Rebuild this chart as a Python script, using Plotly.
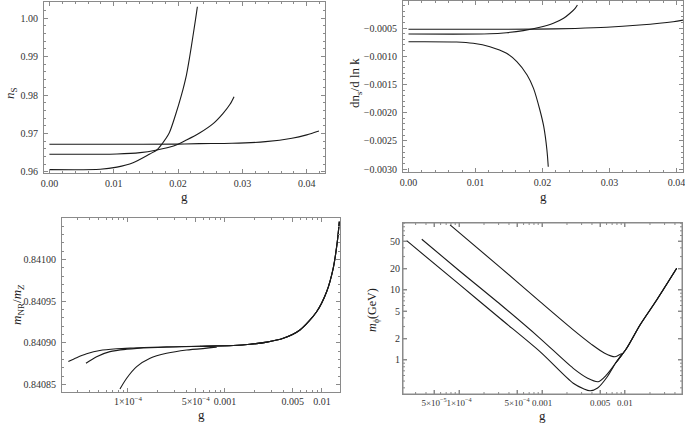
import plotly.graph_objects as go

W, H = 685, 427

# ---------------- Panel 1: n_S vs g ----------------
ns_g_a = [0.0, 0.010, 0.020, 0.0233, 0.0284, 0.0336, 0.0377, 0.0400, 0.0419]
ns_a = [0.96715, 0.96716, 0.96720, 0.96731, 0.96740, 0.96783, 0.96871, 0.96960, 0.97061]
ns_g_b = [0.0, 0.0105, 0.0141, 0.0167, 0.0193, 0.0213, 0.0234, 0.0255, 0.0270, 0.0281, 0.0287]
ns_b = [0.96454, 0.96462, 0.96496, 0.96566, 0.96670, 0.96827, 0.97017, 0.97262, 0.97523, 0.97765, 0.97956]
ns_g_c = [0.0, 0.0079, 0.0105, 0.0130, 0.0156, 0.0167, 0.0175, 0.0186, 0.0196, 0.0205, 0.0213, 0.0218, 0.0223, 0.02274, 0.0230]
ns_c = [0.96055, 0.96063, 0.96120, 0.96235, 0.96462, 0.96566, 0.96723, 0.97001, 0.97479, 0.97982, 0.98521, 0.98991, 0.99520, 1.00000, 1.00300]

# ---------------- Panel 2: dn_s/dlnk vs g ----------------
run_g_a = [0.0, 0.0096, 0.0191, 0.0249, 0.0296, 0.0345, 0.0395, 0.0420]
run_a = [-0.000523, -0.000523, -0.000520, -0.000508, -0.000488, -0.000447, -0.000388, -0.000340]
run_g_b = [0.0, 0.01215, 0.01464, 0.01713, 0.01961, 0.02162, 0.02315, 0.02411, 0.02487, 0.02521]
run_b = [-0.000606, -0.000603, -0.000583, -0.000547, -0.000488, -0.000417, -0.000328, -0.000239, -0.000151, -0.000092]
run_g_c = [0.0, 0.00718, 0.00966, 0.01215, 0.01464, 0.01617, 0.0177, 0.01866, 0.01961, 0.02019, 0.02066, 0.02086]
run_c = [-0.000743, -0.000748, -0.000771, -0.000831, -0.000949, -0.001097, -0.001333, -0.001570, -0.001954, -0.002250, -0.002663, -0.002959]

# ---------------- Panel 3: m_NR/m_Z vs g (log x) ----------------
mr_g_tail = [5.5e-4, 1.22e-3, 1.81e-3, 2.7e-3, 3.99e-3, 5.93e-3, 8.81e-3, 1.117e-2, 1.306e-2, 1.44e-2, 1.51e-2]
mr_tail = [0.8408960, 0.8408970, 0.8408984, 0.8409010, 0.8409056, 0.8409156, 0.8409375, 0.8409615, 0.8409896, 0.8410215, 0.8410455]
mr_g_1 = [2.43e-5, 2.96e-5, 3.75e-5, 5.14e-5, 7.64e-5, 1.13e-4, 2.5e-4]
mr_1 = [0.8408778, 0.8408824, 0.8408870, 0.8408910, 0.8408930, 0.8408940, 0.8408955]
mr_g_2 = [3.69e-5, 4.75e-5, 6.52e-5, 9.7e-5, 1.69e-4, 3.72e-4]
mr_2 = [0.8408757, 0.8408836, 0.8408896, 0.8408924, 0.8408944, 0.8408956]
mr_g_3 = [8.27e-5, 9.7e-5, 1.23e-4, 1.69e-4, 2.5e-4, 4.03e-4, 8.2e-4]
mr_3 = [0.8408448, 0.8408577, 0.8408716, 0.8408817, 0.8408876, 0.8408916, 0.8408948]

# ---------------- Panel 4: m_phi vs g (log-log) ----------------
mp_g_tail = [7.76e-3, 1.047e-2, 1.517e-2, 2.41e-2, 4.2e-2]
mp_tail = [0.912, 1.47, 3.16, 7.19, 20.4]
mp_g_1 = [2.34e-5, 1.0e-4, 3.16e-4, 9.46e-4, 2.38e-3, 3.16e-3, 3.80e-3, 4.68e-3, 6.03e-3]
mp_1 = [50.6, 12.1, 3.88, 1.315, 0.465, 0.389, 0.364, 0.398, 0.562]
mp_g_2 = [3.56e-5, 1.0e-4, 3.16e-4, 9.46e-4, 2.38e-3, 3.55e-3, 4.76e-3, 6.03e-3]
mp_2 = [53.0, 19.0, 6.2, 2.04, 0.76, 0.55, 0.49, 0.617]
mp_g_3 = [7.8e-5, 3.16e-4, 9.46e-4, 2.38e-3, 3.98e-3, 5.62e-3, 7.59e-3, 9.12e-3]
mp_3 = [85.0, 20.9, 6.81, 2.69, 1.66, 1.26, 1.11, 1.23]

# tick definitions
lin_g_ticks = [0.0, 0.01, 0.02, 0.03, 0.04]
ns_ticks = [0.96, 0.97, 0.98, 0.99, 1.00]
run_ticks = [-0.0005, -0.0010, -0.0015, -0.0020, -0.0025, -0.0030]
run_ticktext = ["\u22120.0005", "\u22120.0010", "\u22120.0015", "\u22120.0020", "\u22120.0025", "\u22120.0030"]
mr_ticks = [0.84085, 0.84090, 0.84095, 0.84100]
log3_ticks = [1e-4, 5e-4, 1e-3, 5e-3, 1e-2]
log3_text = ["1\u00d710<sup>\u22124</sup>", "5\u00d710<sup>\u22124</sup>", "0.001", "0.005", "0.01"]
log4_ticks = [5e-5, 1e-4, 5e-4, 1e-3, 5e-3, 1e-2]
log4_text = ["5\u00d710<sup>\u22125</sup>", "1\u00d710<sup>\u22124</sup>", "5\u00d710<sup>\u22124</sup>", "0.001", "0.005", "0.01"]
mp_ticks = [1, 2, 5, 10, 20, 50]

FONT = "Liberation Serif"
FRAME = "#8a8a8a"
LINE = "#1a1a1a"

def minor_log(lo_exp, hi_exp):
    vals = []
    for e in range(lo_exp, hi_exp + 1):
        for m in range(1, 10):
            vals.append(m * 10.0 ** e)
    return vals

def dom(a, b, total, flip=False):
    if flip:
        return [1 - b / total, 1 - a / total]
    return [a / total, b / total]

fig = go.Figure()

def add(xs, ys, xa, ya):
    fig.add_trace(go.Scatter(x=xs, y=ys, mode="lines", xaxis=xa, yaxis=ya,
                             line=dict(color=LINE, width=1.1, shape="spline", smoothing=0.8),
                             showlegend=False, hoverinfo="skip"))

add(ns_g_a, ns_a, "x", "y")
add(ns_g_b, ns_b, "x", "y")
add(ns_g_c, ns_c, "x", "y")
add(run_g_a, run_a, "x2", "y2")
add(run_g_b, run_b, "x2", "y2")
add(run_g_c, run_c, "x2", "y2")
add(mr_g_1 + mr_g_tail, mr_1 + mr_tail, "x3", "y3")
add(mr_g_2 + mr_g_tail, mr_2 + mr_tail, "x3", "y3")
add(mr_g_3 + mr_g_tail, mr_3 + mr_tail, "x3", "y3")
add(mp_g_1 + mp_g_tail, mp_1 + mp_tail, "x4", "y4")
add(mp_g_2 + mp_g_tail, mp_2 + mp_tail, "x4", "y4")
add(mp_g_3 + mp_g_tail, mp_3 + mp_tail, "x4", "y4")

common = dict(showline=True, linecolor=FRAME, linewidth=1, mirror="allticks",
              ticks="inside", ticklen=4, tickcolor=FRAME, tickwidth=1,
              showgrid=False, zeroline=False, tickangle=0, automargin=False,
              ticklabeloverflow="allow",
              tickfont=dict(family=FONT, size=10, color="#333333"))
minor_c = dict(ticks="inside", ticklen=2, tickcolor=FRAME, tickwidth=1, showgrid=False)

P4X = (403, 682)
P4Y = (223, 394)

layout = dict(
    width=W, height=H, autosize=False,
    margin=dict(l=0, r=0, t=0, b=0, pad=0),
    paper_bgcolor="white", plot_bgcolor="white",
    xaxis=dict(common, domain=dom(44, 325, W), range=[-0.00084, 0.04284],
               tickmode="array", tickvals=lin_g_ticks, tickformat=".2f", ticklabelstandoff=1,
               minor=dict(minor_c, dtick=0.002, tick0=0), anchor="y"),
    yaxis=dict(common, domain=dom(2, 173, H, True), range=[0.95966, 1.00425],
               tickmode="array", tickvals=ns_ticks, tickformat=".2f", ticklabelstandoff=3,
               minor=dict(minor_c, dtick=0.002, tick0=0.96), anchor="x"),
    xaxis2=dict(common, domain=dom(403, 683, W), range=[-0.00082, 0.04097],
                tickmode="array", tickvals=lin_g_ticks, tickformat=".2f", ticklabelstandoff=1,
                minor=dict(minor_c, dtick=0.002, tick0=0), anchor="y2"),
    yaxis2=dict(common, domain=dom(1, 172, H, True), range=[-0.003053, -0.0000213],
                tickmode="array", tickvals=run_ticks, ticktext=run_ticktext, ticklabelstandoff=3,
                minor=dict(minor_c, dtick=0.0001, tick0=0), anchor="x2"),
    xaxis3=dict(common, domain=dom(62, 340, W), type="log", range=[-4.680, -1.814],
                tickmode="array", tickvals=log3_ticks, ticktext=log3_text, ticklabelstandoff=0,
                minor=dict(minor_c, tickmode="array", tickvals=minor_log(-5, -2)), anchor="y3"),
    yaxis3=dict(common, domain=dom(218, 392, H, True), range=[0.8408412, 0.8410499],
                tickmode="array", tickvals=mr_ticks, tickformat=".5f", ticklabelstandoff=3,
                minor=dict(minor_c, dtick=0.00001, tick0=0.84085), anchor="x3"),
    xaxis4=dict(common, domain=dom(P4X[0], P4X[1], W), type="log", range=[-4.675, -1.313],
                tickmode="array", tickvals=log4_ticks, ticktext=log4_text,
                tickfont=dict(family=FONT, size=9, color="#333333"), anchor="y4"),
    yaxis4=dict(common, domain=dom(P4Y[0], P4Y[1], H, True), type="log", range=[-0.486, 1.957],
                tickmode="array", tickvals=mp_ticks, ticktext=[str(v) for v in mp_ticks],
                anchor="x4"),
)
fig.update_layout(**layout)

# explicit frame and ticks for panel 4 (placed through its own log axes)
fig.add_shape(type="rect", xref="x4 domain", yref="y4 domain", x0=0, x1=1, y0=0, y1=1,
              line=dict(color=FRAME, width=1), layer="above")
fx = 1.0 / (P4X[1] - P4X[0])
fy = 1.0 / (P4Y[1] - P4Y[0])
x4_lo, x4_hi = 10 ** -4.675, 10 ** -1.313
y4_lo, y4_hi = 10 ** -0.486, 10 ** 1.957
for v in minor_log(-5, -2):
    if x4_lo < v < x4_hi:
        ln = 4 if any(abs(v - t) / t < 1e-6 for t in log4_ticks) else 2
        for (a, b) in ((0, ln * fy), (1, 1 - ln * fy)):
            fig.add_shape(type="line", xref="x4", yref="y4 domain", x0=v, x1=v, y0=a, y1=b,
                          line=dict(color=FRAME, width=1), layer="above")
for v in minor_log(-1, 1):
    if y4_lo < v < y4_hi:
        ln = 4 if v in mp_ticks else 2
        for (a, b) in ((0, ln * fx), (1, 1 - ln * fx)):
            fig.add_shape(type="line", xref="x4 domain", yref="y4", x0=a, x1=b, y0=v, y1=v,
                          line=dict(color=FRAME, width=1), layer="above")

def ann(text, x, y, angle=0, size=13):
    fig.add_annotation(text=text, x=x / W, y=1 - y / H, xref="paper", yref="paper",
                       showarrow=False, textangle=angle,
                       font=dict(family=FONT, size=size, color="#222222"),
                       xanchor="center", yanchor="middle")

ann("g", 184, 196)
ann("g", 543, 196)
ann("g", 201, 414)
ann("g", 542, 415)
ann("<i>n</i><sub>S</sub>", 10, 93, -90)
ann("dn<sub>s</sub>/d ln k", 355, 83, -90)
ann("<i>m</i><sub>NR</sub>/<i>m</i><sub><i>Z</i></sub>", 17, 305, -90)
ann("<i>m</i><sub>\u03d5</sub>(GeV)", 373, 310, -90, 12)

fig.write_html("out.html", config={"displayModeBar": False},
               post_script="document.body.style.margin='0';document.body.style.padding='0';")
